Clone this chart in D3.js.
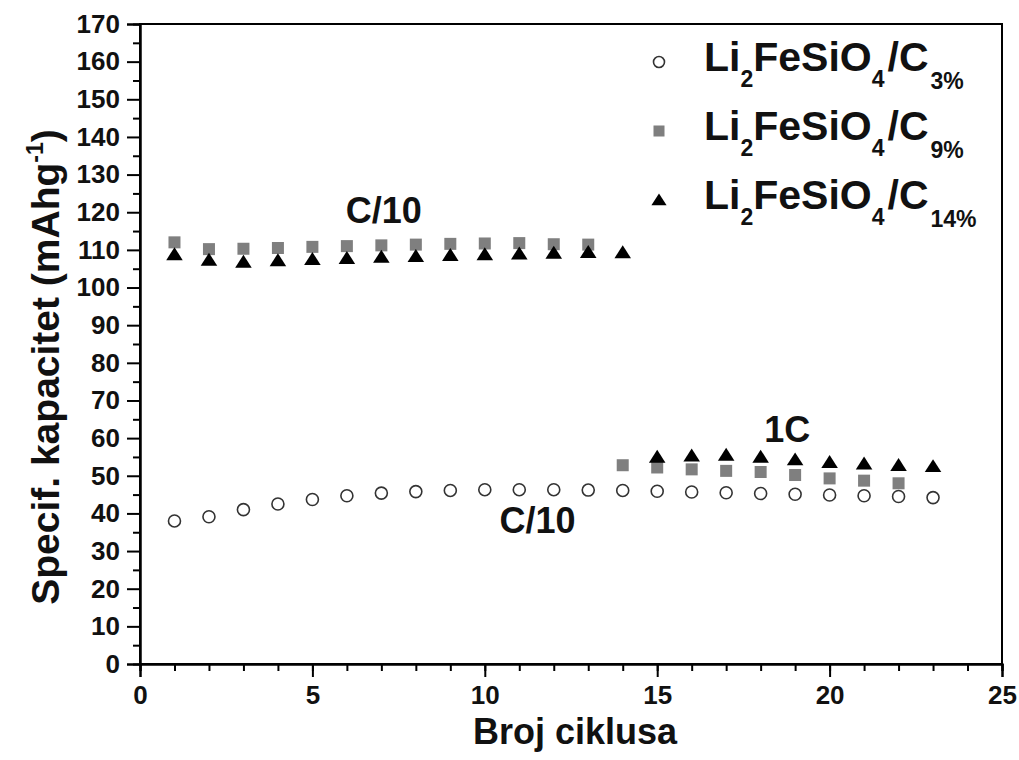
<!DOCTYPE html>
<html>
<head>
<meta charset="utf-8">
<script src="https://cdn.jsdelivr.net/npm/d3@7"></script>
<style>
  body { margin: 0; background: #fff; }
  text { font-family: "Liberation Sans", Arial, sans-serif; font-weight: bold; }
</style>
</head>
<body>
<div id="chart"></div>
<script>
// Data
var cycles3 = [1, 2, 3, 4, 5, 6, 7, 8, 9, 10, 11, 12, 13, 14, 15, 16, 17, 18, 19, 20, 21, 22, 23];
var cap3 = [38, 39.1, 41, 42.5, 43.7, 44.7, 45.4, 45.8, 46.1, 46.3, 46.3, 46.3, 46.2, 46.1, 45.9, 45.7, 45.5, 45.3, 45.1, 44.9, 44.7, 44.5, 44.2];

var cycles9 = [1, 2, 3, 4, 5, 6, 7, 8, 9, 10, 11, 12, 13, 14, 15, 16, 17, 18, 19, 20, 21, 22];
var cap9 = [112, 110.2, 110.3, 110.5, 110.8, 111, 111.2, 111.4, 111.6, 111.7, 111.8, 111.5, 111.4, 52.8, 52.2, 51.7, 51.3, 51, 50.2, 49.3, 48.7, 48];

var cycles14 = [1, 2, 3, 4, 5, 6, 7, 8, 9, 10, 11, 12, 13, 14, 15, 16, 17, 18, 19, 20, 21, 22, 23];
var cap14 = [108.8, 107.3, 106.8, 107.2, 107.5, 107.8, 108.1, 108.3, 108.6, 108.8, 109, 109.2, 109.4, 109.3, 55, 55.3, 55.5, 55, 54.3, 53.6, 53.2, 52.8, 52.5];

var xTicks = [0, 5, 10, 15, 20, 25];
var yTicks = d3.range(0, 171, 10);

var series = [
  {name: "3%", x: cycles3, y: cap3, shape: "circle"},
  {name: "9%", x: cycles9, y: cap9, shape: "square"},
  {name: "14%", x: cycles14, y: cap14, shape: "triangle"}
];

// annotation text, anchored at data coordinates (baseline centre)
var labels = [
  {text: "C/10", cx: 7.07, cy: 117.2},
  {text: "C/10", cx: 11.53, cy: 34.7},
  {text: "1C", cx: 18.77, cy: 58.9}
];

// Chart dimension
var W = 1019, H = 760;
var margin = {top: 24, right: 17, bottom: 96, left: 140};
var width = W - margin.left - margin.right;
var height = H - margin.top - margin.bottom;

var svg = d3.select("#chart").append("svg")
    .attr("width", W)
    .attr("height", H);

var g = svg.append("g").attr("transform", "translate(" + margin.left + "," + margin.top + ")");

var x = d3.scaleLinear().domain([0, 25]).range([0, width]);
var y = d3.scaleLinear().domain([0, 170]).range([height, 0]);

// frame
g.append("rect")
    .attr("width", width).attr("height", height)
    .attr("fill", "none").attr("stroke", "#000").attr("stroke-width", 2);

// X axis: minor + major ticks
var xAxis = g.append("g").attr("transform", "translate(0," + height + ")");
xAxis.call(d3.axisBottom(x).tickValues(d3.range(0, 26, 1)).tickSize(7).tickFormat(""));
xAxis.append("g").attr("class", "xmaj")
    .call(d3.axisBottom(x).tickValues(xTicks).tickSize(13).tickPadding(9));

// Y axis
var yAxis = g.append("g");
yAxis.call(d3.axisLeft(y).tickValues(d3.range(5, 170, 10)).tickSize(7).tickFormat(""));
yAxis.append("g").attr("class", "ymaj")
    .call(d3.axisLeft(y).tickValues(yTicks).tickSize(13).tickPadding(7));

svg.selectAll(".domain").attr("stroke", "#000").attr("stroke-width", 2);
svg.selectAll(".tick line").attr("stroke", "#000").attr("stroke-width", 2);
svg.selectAll(".xmaj .tick text")
    .attr("fill", "#111")
    .style("font-size", "26px");
svg.selectAll(".ymaj .tick text")
    .attr("fill", "#111")
    .style("font-size", "26px");

// Axis titles
svg.append("text")
    .attr("x", 575)
    .attr("y", 744)
    .attr("text-anchor", "middle")
    .style("font-size", "36px")
    .attr("fill", "#111")
    .text("Broj ciklusa");

var yt = svg.append("text")
    .attr("transform", "translate(59,367) rotate(-90)")
    .attr("text-anchor", "middle")
    .style("font-size", "39px")
    .attr("fill", "#111");
yt.append("tspan").text("Specif. kapacitet (mAhg");
yt.append("tspan").attr("dy", -16).style("font-size", "23px").text("-1");
yt.append("tspan").attr("dy", 16).text(")");

// markers
function drawMarker(sel, shape, size) {
  if (shape === "circle") {
    sel.append("circle").attr("r", size * 0.5).attr("fill", "#fff")
      .attr("stroke", "#333").attr("stroke-width", 1.6);
  } else if (shape === "square") {
    sel.append("rect").attr("x", -size * 0.5).attr("y", -size * 0.5)
      .attr("width", size).attr("height", size).attr("fill", "#7f7f7f");
  } else {
    var s = size * 0.6;
    sel.append("path")
      .attr("d", "M0," + (-s) + "L" + (s * 1.15) + "," + (s * 0.8) + "L" + (-s * 1.15) + "," + (s * 0.8) + "Z")
      .attr("fill", "#000");
  }
}

series.forEach(function(s) {
  var pts = s.x.map(function(v, i) { return {x: v, y: s.y[i]}; });
  g.append("g").selectAll("g")
    .data(pts)
    .enter()
    .append("g")
    .attr("transform", function(d) { return "translate(" + x(d.x) + "," + y(d.y) + ")"; })
    .each(function() { drawMarker(d3.select(this), s.shape, 12); });
});

// annotations
g.selectAll(".ann")
  .data(labels)
  .enter()
  .append("text")
  .attr("class", "ann")
  .attr("x", function(d) { return x(d.cx); })
  .attr("y", function(d) { return y(d.cy); })
  .attr("text-anchor", "middle")
  .style("font-size", "36px")
  .attr("fill", "#111")
  .text(function(d) { return d.text; });

// legend
var legend = svg.append("g").attr("transform", "translate(659,0)");
series.forEach(function(s, i) {
  var row = legend.append("g").attr("transform", "translate(0," + (62 + i * 69) + ")");
  drawMarker(row, s.shape, 11);
  var t = row.append("text").attr("x", 45).attr("y", 9)
    .style("font-size", "41px").attr("fill", "#111");
  t.append("tspan").text("Li");
  t.append("tspan").attr("dy", 16).style("font-size", "23px").text("2");
  t.append("tspan").attr("dy", -16).text("FeSiO");
  t.append("tspan").attr("dy", 16).style("font-size", "23px").text("4");
  t.append("tspan").attr("dy", -16).attr("dx", 3).text("/C");
  t.append("tspan").attr("dy", 18).attr("dx", 2).style("font-size", "23px").text(s.name);
});
</script>
</body>
</html>
